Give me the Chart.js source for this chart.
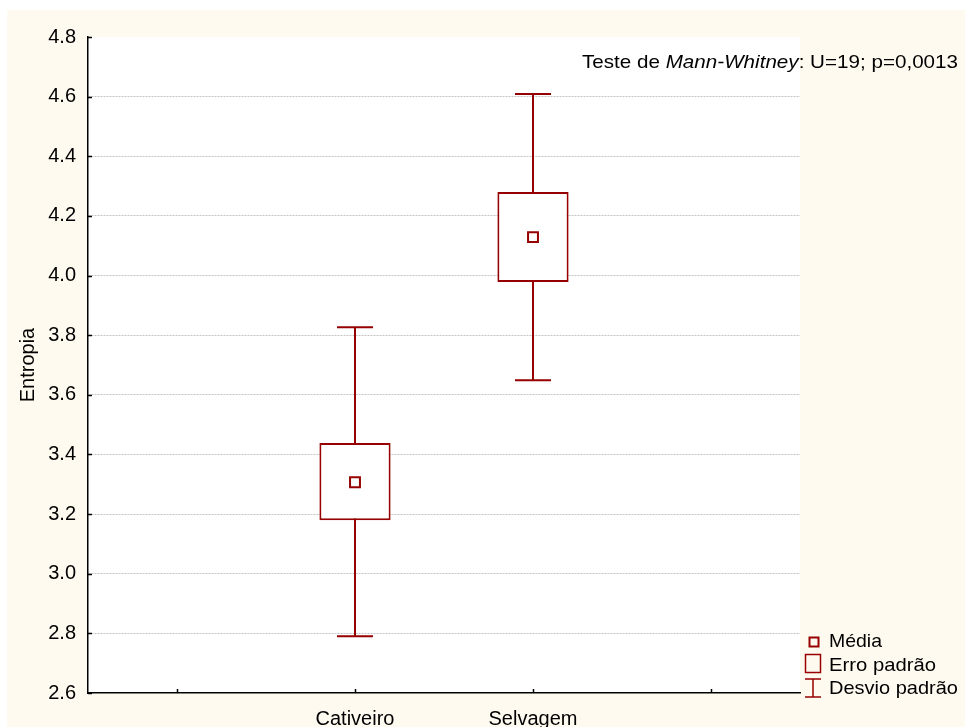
<!DOCTYPE html>
<html>
<head>
<meta charset="utf-8">
<script src="https://cdn.jsdelivr.net/npm/chart.js@4.4.1/dist/chart.umd.min.js"></script>
<style>
  body { margin: 0; background: #fff; }
</style>
</head>
<body>
<canvas id="grafica" width="965" height="727"></canvas>
<script>
const categorias = ["", "Cativeiro", "Selvagem", ""];
const media = [null, 3.307, 4.129, null];
const erroBaixo = [null, 3.179, 3.978, null];
const erroAlto = [null, 3.438, 4.280, null];
const desvioBaixo = [null, 2.790, 3.649, null];
const desvioAlto = [null, 3.827, 4.609, null];
const ticksY = [2.6, 2.8, 3.0, 3.2, 3.4, 3.6, 3.8, 4.0, 4.2, 4.4, 4.6, 4.8];

const vermelho = "#960000";
const fonte = "'Liberation Sans', Arial, sans-serif";
Chart.defaults.font.family = fonte;
Chart.defaults.color = "#000";

const fundo = {
  id: "fundo",
  beforeDraw(chart) {
    const c = chart.ctx, a = chart.chartArea;
    c.save();
    c.fillStyle = "#fff";
    c.fillRect(0, 0, chart.width, chart.height);
    c.fillStyle = "#fffaf0";
    c.fillRect(7, 10, chart.width - 7, chart.height - 10);
    c.fillStyle = "#fff";
    c.fillRect(a.left, a.top, a.right - a.left, a.bottom - a.top);
    c.restore();
  }
};

// barras de desvio padrao, atras das caixas
const desvios = {
  id: "desvios",
  beforeDatasetsDraw(chart) {
    const c = chart.ctx, x = chart.scales.x, y = chart.scales.y;
    c.save();
    c.strokeStyle = vermelho;
    c.lineWidth = 2;
    categorias.forEach((cat, i) => {
      if (desvioAlto[i] == null) return;
      const px = Math.round(x.getPixelForValue(i));
      const top = y.getPixelForValue(desvioAlto[i]);
      const bot = y.getPixelForValue(desvioBaixo[i]);
      c.beginPath();
      c.moveTo(px, top); c.lineTo(px, bot);
      c.moveTo(px - 18, top); c.lineTo(px + 18, top);
      c.moveTo(px - 18, bot); c.lineTo(px + 18, bot);
      c.stroke();
    });
    c.restore();
  }
};

function textoLargura(c, partes, x, y, largura) {
  let w = 0;
  partes.forEach(p => { c.font = p[1]; w += c.measureText(p[0]).width; });
  const k = largura ? largura / w : 1;
  c.save();
  c.translate(x, y);
  c.scale(k, 1);
  let tx = 0;
  partes.forEach(p => { c.font = p[1]; c.fillText(p[0], tx, 0); tx += c.measureText(p[0]).width; });
  c.restore();
}

const extras = {
  id: "extras",
  afterDraw(chart) {
    const c = chart.ctx, a = chart.chartArea, x = chart.scales.x, y = chart.scales.y;
    c.save();
    // marcas dos eixos para dentro
    c.strokeStyle = "#000";
    c.lineWidth = 1.5;
    c.beginPath();
    x.ticks.forEach((t, i) => {
      const px = Math.round(x.getPixelForTick(i)) + 0.5;
      c.moveTo(px, a.bottom); c.lineTo(px, a.bottom - 4);
    });
    y.ticks.forEach((t, i) => {
      const py = Math.round(y.getPixelForTick(i)) + 0.5;
      c.moveTo(a.left, py); c.lineTo(a.left + 4, py);
    });
    c.stroke();

    // titulo do eixo y
    c.fillStyle = "#000";
    c.font = "20px " + fonte;
    c.translate(34, (a.top + a.bottom) / 2);
    c.rotate(-Math.PI / 2);
    c.textAlign = "center";
    c.textBaseline = "alphabetic";
    c.fillText("Entropia", 0, 0);
    c.setTransform(1, 0, 0, 1, 0, 0);

    // texto do teste
    c.textAlign = "left";
    textoLargura(c, [
      ["Teste de ", "19px " + fonte],
      ["Mann-Whitney", "italic 19px " + fonte],
      [": U=19; p=0,0013", "19px " + fonte]
    ], 582, 68, 376);

    // legenda
    textoLargura(c, [["Média", "19px " + fonte]], 829, 647, 53);
    textoLargura(c, [["Erro padrão", "19px " + fonte]], 829, 671, 107);
    textoLargura(c, [["Desvio padrão", "19px " + fonte]], 829, 694, 129);
    c.strokeStyle = vermelho;
    c.lineWidth = 2;
    c.strokeRect(809.5, 637.5, 9, 9);
    c.lineWidth = 1.5;
    c.strokeRect(805.5, 654.5, 15, 18);
    c.beginPath();
    c.moveTo(813, 679); c.lineTo(813, 697);
    c.moveTo(805, 679); c.lineTo(821, 679);
    c.moveTo(805, 697); c.lineTo(821, 697);
    c.stroke();
    c.restore();
  }
};

new Chart(document.getElementById("grafica"), {
  type: "bar",
  data: {
    labels: categorias,
    datasets: [
      {
        type: "line",
        label: "Média",
        data: media,
        showLine: false,
        pointStyle: "rect",
        pointRadius: 7,
        pointBorderWidth: 2,
        pointBorderColor: vermelho,
        pointBackgroundColor: "#fff",
        order: 0
      },
      {
        label: "Erro padrão",
        data: categorias.map((c, i) => erroAlto[i] == null ? null : [erroBaixo[i], erroAlto[i]]),
        backgroundColor: "#fff",
        borderColor: vermelho,
        borderWidth: 2,
        borderSkipped: false,
        categoryPercentage: 1,
        barPercentage: 0.4,
        order: 1
      }
    ]
  },
  options: {
    responsive: false,
    animation: false,
    layout: { padding: { top: 37, right: 165, left: 0, bottom: 0 } },
    plugins: {
      legend: { display: false },
      tooltip: { enabled: false }
    },
    scales: {
      x: {
        offset: true,
        grid: { display: false, offset: false },
        border: { display: true, color: "#000", width: 1.5 },
        ticks: { font: { size: 20 }, padding: 6, maxRotation: 0, autoSkip: false },
        afterFit(s) { s.height = 34; }
      },
      y: {
        min: 2.6,
        max: 4.8,
        afterBuildTicks(s) { s.ticks = ticksY.map(v => ({ value: v })); },
        grid: {
          drawTicks: false,
          color: ctx => (ctx.tick && (ctx.tick.value === 4.8 || ctx.tick.value === 2.6)) ? "rgba(0,0,0,0)" : "#c4c4c4",
          lineWidth: 1
        },
        border: { display: true, color: "#000", width: 1.5, dash: [2, 1] },
        ticks: { font: { size: 20 }, padding: 12, callback: v => Number(v).toFixed(1) },
        afterFit(s) { s.width = 88; }
      }
    }
  },
  plugins: [fundo, desvios, extras]
});
</script>
</body>
</html>
